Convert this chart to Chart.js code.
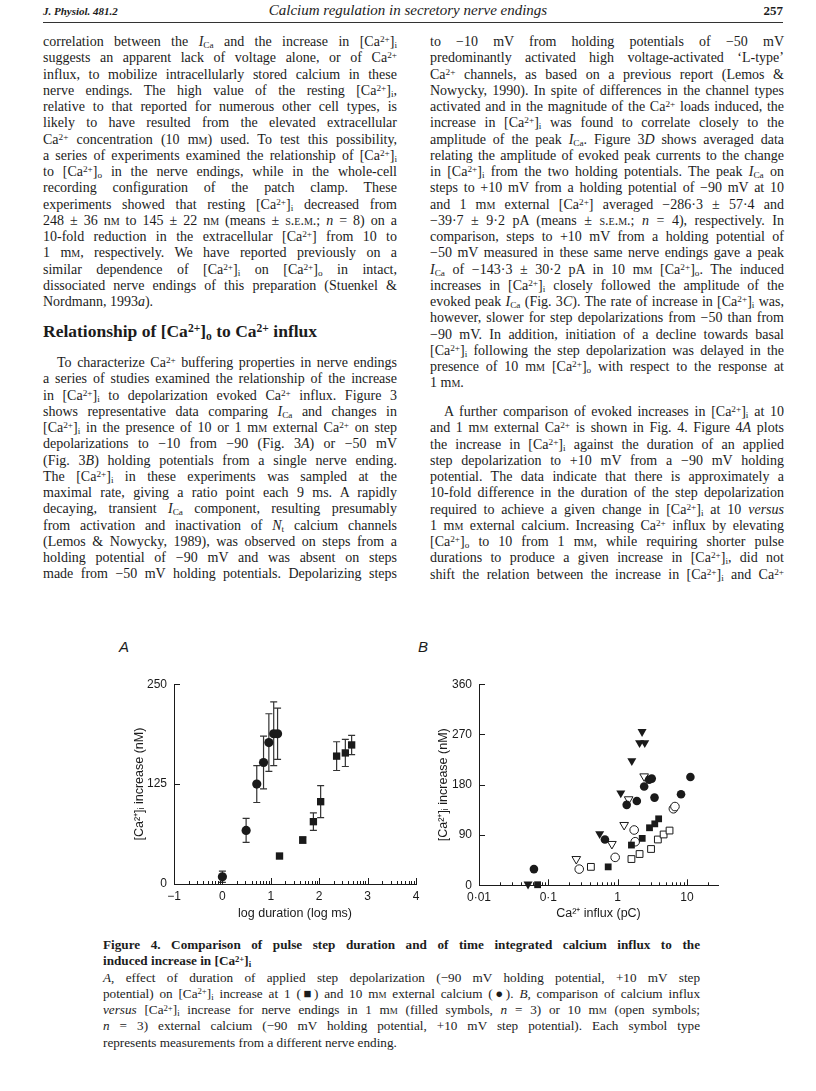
<!DOCTYPE html>
<html>
<head>
<meta charset="utf-8">
<script src="https://cdn.jsdelivr.net/npm/chart.js@4.4.1/dist/chart.umd.min.js"></script>
<style>
  body { margin:0; background:#fff; }
  #page { position:relative; width:816px; height:1091px; background:#fff; color:#1c1c1c; font-family:"Liberation Serif", serif; overflow:hidden; }
  .hdr { position:absolute; top:3px; font-size:12px; }
  .rule { position:absolute; left:43px; top:22px; width:740px; border-top:1px solid #333; }
  .col { position:absolute; width:354px; font-size:14px; line-height:16.25px; }
  .col div, .cap div { text-align:justify; text-align-last:justify; white-space:nowrap; }
  .col div.e, .cap div.e { text-align-last:left; }
  .ind { text-indent:14px; }
  sup, sub { font-size:66%; line-height:0; position:relative; vertical-align:baseline; }
  sup { top:-0.42em; } sub { top:0.22em; }
  .sc { font-variant:small-caps; }
  h3 { position:absolute; left:43px; top:321px; margin:0; font-size:17.5px; font-weight:bold; }
  .cap { position:absolute; left:103px; top:937px; width:597px; font-size:13.2px; line-height:16.3px; }
  .cap b { font-weight:bold; }
  .plab { position:absolute; font-family:"Liberation Sans", Arial, sans-serif; font-style:italic; font-size:15px; }
  canvas { position:absolute; }
</style>
</head>
<body>
<div id="page">
  <div class="hdr" style="left:43px;font-weight:bold;font-style:italic;font-size:11px;top:5px">J. Physiol. 481.2</div>
  <div class="hdr" style="left:0;width:816px;text-align:center;font-style:italic;font-size:15px;top:2px">Calcium regulation in secretory nerve endings</div>
  <div class="hdr" style="left:740px;width:43px;text-align:right;font-weight:bold;font-size:13px;top:3px">257</div>
  <div class="rule"></div>

  <div class="col" style="left:43px;top:34px">
    <div>correlation between the <i>I</i><sub>Ca</sub> and the increase in [Ca<sup>2+</sup>]<sub>i</sub></div>
    <div>suggests an apparent lack of voltage alone, or of Ca<sup>2+</sup></div>
    <div>influx, to mobilize intracellularly stored calcium in these</div>
    <div>nerve endings. The high value of the resting [Ca<sup>2+</sup>]<sub>i</sub>,</div>
    <div>relative to that reported for numerous other cell types, is</div>
    <div>likely to have resulted from the elevated extracellular</div>
    <div>Ca<sup>2+</sup> concentration (10 m<span class="sc">m</span>) used. To test this possibility,</div>
    <div>a series of experiments examined the relationship of [Ca<sup>2+</sup>]<sub>i</sub></div>
    <div>to [Ca<sup>2+</sup>]<sub>o</sub> in the nerve endings, while in the whole-cell</div>
    <div>recording configuration of the patch clamp. These</div>
    <div>experiments showed that resting [Ca<sup>2+</sup>]<sub>i</sub> decreased from</div>
    <div>248 ± 36 n<span class="sc">m</span> to 145 ± 22 n<span class="sc">m</span> (means ± <span class="sc">s.e.m.</span>; <i>n</i> = 8) on a</div>
    <div>10-fold reduction in the extracellular [Ca<sup>2+</sup>] from 10 to</div>
    <div>1 m<span class="sc">m</span>, respectively. We have reported previously on a</div>
    <div>similar dependence of [Ca<sup>2+</sup>]<sub>i</sub> on [Ca<sup>2+</sup>]<sub>o</sub> in intact,</div>
    <div>dissociated nerve endings of this preparation (Stuenkel &amp;</div>
    <div class="e">Nordmann, 1993<i>a</i>).</div>
  </div>

  <h3>Relationship of [Ca<sup>2+</sup>]<sub>o</sub> to Ca<sup>2+</sup> influx</h3>

  <div class="col" style="left:43px;top:355px">
    <div class="ind">To characterize Ca<sup>2+</sup> buffering properties in nerve endings</div>
    <div>a series of studies examined the relationship of the increase</div>
    <div>in [Ca<sup>2+</sup>]<sub>i</sub> to depolarization evoked Ca<sup>2+</sup> influx. Figure 3</div>
    <div>shows representative data comparing <i>I</i><sub>Ca</sub> and changes in</div>
    <div>[Ca<sup>2+</sup>]<sub>i</sub> in the presence of 10 or 1 m<span class="sc">m</span> external Ca<sup>2+</sup> on step</div>
    <div>depolarizations to −10 from −90 (Fig. 3<i>A</i>) or −50 mV</div>
    <div>(Fig. 3<i>B</i>) holding potentials from a single nerve ending.</div>
    <div>The [Ca<sup>2+</sup>]<sub>i</sub> in these experiments was sampled at the</div>
    <div>maximal rate, giving a ratio point each 9 ms. A rapidly</div>
    <div>decaying, transient <i>I</i><sub>Ca</sub> component, resulting presumably</div>
    <div>from activation and inactivation of <i>N</i><sub>t</sub> calcium channels</div>
    <div>(Lemos &amp; Nowycky, 1989), was observed on steps from a</div>
    <div>holding potential of −90 mV and was absent on steps</div>
    <div>made from −50 mV holding potentials. Depolarizing steps</div>
  </div>

  <div class="col" style="left:430px;top:34px">
    <div>to −10 mV from holding potentials of −50 mV</div>
    <div>predominantly activated high voltage-activated ‘L-type’</div>
    <div>Ca<sup>2+</sup> channels, as based on a previous report (Lemos &amp;</div>
    <div>Nowycky, 1990). In spite of differences in the channel types</div>
    <div>activated and in the magnitude of the Ca<sup>2+</sup> loads induced, the</div>
    <div>increase in [Ca<sup>2+</sup>]<sub>i</sub> was found to correlate closely to the</div>
    <div>amplitude of the peak <i>I</i><sub>Ca</sub>. Figure 3<i>D</i> shows averaged data</div>
    <div>relating the amplitude of evoked peak currents to the change</div>
    <div>in [Ca<sup>2+</sup>]<sub>i</sub> from the two holding potentials. The peak <i>I</i><sub>Ca</sub> on</div>
    <div>steps to +10 mV from a holding potential of −90 mV at 10</div>
    <div>and 1 m<span class="sc">m</span> external [Ca<sup>2+</sup>] averaged −286·3 ± 57·4 and</div>
    <div>−39·7 ± 9·2 pA (means ± <span class="sc">s.e.m.</span>; <i>n</i> = 4), respectively. In</div>
    <div>comparison, steps to +10 mV from a holding potential of</div>
    <div>−50 mV measured in these same nerve endings gave a peak</div>
    <div><i>I</i><sub>Ca</sub> of −143·3 ± 30·2 pA in 10 m<span class="sc">m</span> [Ca<sup>2+</sup>]<sub>o</sub>. The induced</div>
    <div>increases in [Ca<sup>2+</sup>]<sub>i</sub> closely followed the amplitude of the</div>
    <div>evoked peak <i>I</i><sub>Ca</sub> (Fig. 3<i>C</i>). The rate of increase in [Ca<sup>2+</sup>]<sub>i</sub> was,</div>
    <div>however, slower for step depolarizations from −50 than from</div>
    <div>−90 mV. In addition, initiation of a decline towards basal</div>
    <div>[Ca<sup>2+</sup>]<sub>i</sub> following the step depolarization was delayed in the</div>
    <div>presence of 10 m<span class="sc">m</span> [Ca<sup>2+</sup>]<sub>o</sub> with respect to the response at</div>
    <div class="e">1 m<span class="sc">m</span>.</div>
  </div>

  <div class="col" style="left:430px;top:404px">
    <div class="ind">A further comparison of evoked increases in [Ca<sup>2+</sup>]<sub>i</sub> at 10</div>
    <div>and 1 m<span class="sc">m</span> external Ca<sup>2+</sup> is shown in Fig. 4. Figure 4<i>A</i> plots</div>
    <div>the increase in [Ca<sup>2+</sup>]<sub>i</sub> against the duration of an applied</div>
    <div>step depolarization to +10 mV from a −90 mV holding</div>
    <div>potential. The data indicate that there is approximately a</div>
    <div>10-fold difference in the duration of the step depolarization</div>
    <div>required to achieve a given change in [Ca<sup>2+</sup>]<sub>i</sub> at 10 <i>versus</i></div>
    <div>1 m<span class="sc">m</span> external calcium. Increasing Ca<sup>2+</sup> influx by elevating</div>
    <div>[Ca<sup>2+</sup>]<sub>o</sub> to 10 from 1 m<span class="sc">m</span>, while requiring shorter pulse</div>
    <div>durations to produce a given increase in [Ca<sup>2+</sup>]<sub>i</sub>, did not</div>
    <div>shift the relation between the increase in [Ca<sup>2+</sup>]<sub>i</sub> and Ca<sup>2+</sup></div>
  </div>

  <div class="plab" style="left:119px;top:638px">A</div>
  <div class="plab" style="left:418px;top:638px">B</div>
  <canvas id="chartA" width="320" height="255" style="left:110px;top:670px"></canvas>
  <canvas id="chartB" width="310" height="255" style="left:420px;top:670px"></canvas>

  <div class="cap">
    <div><b>Figure 4. Comparison of pulse step duration and of time integrated calcium influx to the</b></div>
    <div class="e"><b>induced increase in [Ca<sup>2+</sup>]<sub>i</sub></b></div>
    <div><i>A</i>, effect of duration of applied step depolarization (−90 mV holding potential, +10 mV step</div>
    <div>potential) on [Ca<sup>2+</sup>]<sub>i</sub> increase at 1 (■) and 10 m<span class="sc">m</span> external calcium (●). <i>B</i>, comparison of calcium influx</div>
    <div><i>versus</i> [Ca<sup>2+</sup>]<sub>i</sub> increase for nerve endings in 1 m<span class="sc">m</span> (filled symbols, <i>n</i> = 3) or 10 m<span class="sc">m</span> (open symbols;</div>
    <div><i>n</i> = 3) external calcium (−90 mV holding potential, +10 mV step potential). Each symbol type</div>
    <div class="e">represents measurements from a different nerve ending.</div>
  </div>
</div>

<script>
// panel A: log duration vs increase
const durOne = [1.18, 1.66, 1.88, 2.03, 2.36, 2.54, 2.67];
const incOne = [35, 55, 78, 103, 160, 164, 174];
const errOne = [0, 4, 11, 20, 18, 17, 12];
const durTen = [0, 0.49, 0.71, 0.85, 0.96, 1.06, 1.14];
const incTen = [9, 67, 125, 152, 177, 188, 188];
const errTen = [7, 15, 23, 33, 36, 40, 32];
const aTicksX = [-1, 0, 1, 2, 3, 4];
const aTicksY = [0, 125, 250];

// panel B: Ca influx (pC) vs increase, one array pair per nerve ending
const fCircX = [0.062, 0.655, 1.35, 1.89, 2.41, 2.84, 3.1, 3.4, 8.2, 11.2];
const fCircY = [29, 82, 144, 151, 177, 189, 191, 157, 163, 194];
const fTriX = [0.051, 0.55, 1.11, 1.6, 2.07, 2.46, 2.25];
const fTriY = [2, 92, 165, 223, 255, 255, 275];
const fSqX = [0.070, 0.73, 1.58, 2.26, 2.88, 3.43, 3.9];
const fSqY = [1, 33, 72, 84, 103, 110, 119];
const oTriX = [0.253, 0.826, 1.24, 1.44, 2.41];
const oTriY = [47, 74, 108, 154, 195];
const oCircX = [0.279, 0.92, 1.79, 1.73, 6.36, 6.7];
const oCircY = [29, 50, 78, 99, 137, 141];
const oSqX = [0.411, 1.58, 2.07, 3.03, 3.8, 4.6, 5.6];
const oSqY = [33, 47, 56, 65, 82, 91, 98];
const bTicksX = [0.01, 0.1, 1, 10];
const bTickLabels = ['0·01', '0·1', '1', '10'];
const bTicksY = [0, 90, 180, 270, 360];

const ink = '#1a1a1a';
const sans = '"Liberation Sans", Arial, sans-serif';

function pts(xs, ys) { return xs.map((x, i) => ({ x: x, y: ys[i] })); }

// minor tick positions inside each decade
function logMinor(lo, hi, isLog) {
  const out = [];
  if (isLog) {
    for (let d = lo; d < hi; d *= 10)
      for (let k = 2; k <= 9; k++) if (k * d <= hi) out.push(k * d);
  } else {
    for (let d = lo; d < hi; d++)
      for (let k = 2; k <= 9; k++) out.push(d + Math.log10(k));
  }
  return out;
}

const tickMarks = {
  id: 'tickMarks',
  afterDatasetsDraw(chart, args, o) {
    const ctx = chart.ctx, xs = chart.scales.x, ys = chart.scales.y;
    ctx.save();
    ctx.strokeStyle = ink;
    ctx.lineWidth = 1;
    ctx.beginPath();
    o.xMajor.forEach(v => {
      const px = Math.round(xs.getPixelForValue(v)) + 0.5;
      ctx.moveTo(px, ys.bottom); ctx.lineTo(px, ys.bottom - 6);
    });
    o.xMinor.forEach(v => {
      const px = Math.round(xs.getPixelForValue(v)) + 0.5;
      ctx.moveTo(px, ys.bottom); ctx.lineTo(px, ys.bottom - 3);
    });
    o.yMajor.forEach(v => {
      const py = Math.round(ys.getPixelForValue(v)) + 0.5;
      ctx.moveTo(xs.left, py); ctx.lineTo(xs.left + 6, py);
    });
    ctx.stroke();
    ctx.restore();
  }
};

const errorBars = {
  id: 'errorBars',
  beforeDatasetsDraw(chart) {
    const ctx = chart.ctx, xs = chart.scales.x, ys = chart.scales.y;
    ctx.save();
    ctx.strokeStyle = '#333';
    ctx.lineWidth = 1.2;
    chart.data.datasets.forEach(ds => {
      if (!ds.errors) return;
      ds.data.forEach((p, i) => {
        const e = ds.errors[i];
        if (!e) return;
        const px = xs.getPixelForValue(p.x);
        const top = ys.getPixelForValue(p.y + e), bot = ys.getPixelForValue(p.y - e);
        ctx.beginPath();
        ctx.moveTo(px, top); ctx.lineTo(px, bot);
        ctx.moveTo(px - 3.5, top); ctx.lineTo(px + 3.5, top);
        ctx.moveTo(px - 3.5, bot); ctx.lineTo(px + 3.5, bot);
        ctx.stroke();
      });
    });
    ctx.restore();
  }
};

function axisFont(size) { return { family: sans, size: size }; }

function baseScales(xCfg, yCfg, yTitle, xTitle, yWidth, xHeight, yTitlePad) {
  return {
    x: Object.assign({
      grid: { display: false, drawTicks: false },
      border: { display: true, color: ink, width: 1 },
      title: { display: true, text: xTitle, color: ink, font: axisFont(12.5), padding: { top: 0, bottom: 4 } },
      afterFit(s) { s.height = xHeight; }
    }, xCfg),
    y: Object.assign({
      grid: { display: false, drawTicks: false },
      border: { display: true, color: ink, width: 1 },
      title: { display: true, text: yTitle, color: ink, font: axisFont(12.5), padding: { top: yTitlePad, bottom: 0 } },
      afterFit(s) { s.width = yWidth; }
    }, yCfg)
  };
}

Chart.defaults.animation = false;
Chart.defaults.color = ink;

new Chart(document.getElementById('chartA'), {
  type: 'scatter',
  data: {
    datasets: [
      { label: '1 mM', data: pts(durOne, incOne), errors: errOne, pointStyle: 'rect', pointRadius: 5.2,
        backgroundColor: ink, borderColor: ink, borderWidth: 0, clip: false },
      { label: '10 mM', data: pts(durTen, incTen), errors: errTen, pointStyle: 'circle', pointRadius: 4.6,
        backgroundColor: ink, borderColor: ink, borderWidth: 0, clip: false }
    ]
  },
  options: {
    responsive: false,
    layout: { padding: { top: 12.7, right: 14, left: 0, bottom: 0 } },
    plugins: {
      legend: { display: false }, tooltip: { enabled: false },
      tickMarks: { xMajor: aTicksX, xMinor: logMinor(-1, 4, false), yMajor: aTicksY }
    },
    scales: baseScales(
      { type: 'linear', min: -1, max: 4,
        afterBuildTicks(s) { s.ticks = aTicksX.map(v => ({ value: v })); },
        ticks: { padding: 5, font: axisFont(12), callback: v => String(v).replace('-', '−') } },
      { type: 'linear', min: 0, max: 250,
        afterBuildTicks(s) { s.ticks = aTicksY.map(v => ({ value: v })); },
        ticks: { padding: 7, font: axisFont(12) } },
      '[Ca²⁺]ᵢ increase (nM)', 'log duration (log ms)', 64, 41, 22)
  },
  plugins: [errorBars, tickMarks]
});

new Chart(document.getElementById('chartB'), {
  type: 'scatter',
  data: {
    datasets: [
      { data: pts(fCircX, fCircY), pointStyle: 'circle', pointRadius: 4.3, backgroundColor: ink, borderColor: ink, borderWidth: 0, clip: false },
      { data: pts(fTriX, fTriY), pointStyle: 'triangle', rotation: 180, pointRadius: 5.2, backgroundColor: ink, borderColor: ink, borderWidth: 0, clip: false },
      { data: pts(fSqX, fSqY), pointStyle: 'rect', pointRadius: 4.8, backgroundColor: ink, borderColor: ink, borderWidth: 0, clip: false },
      { data: pts(oTriX, oTriY), pointStyle: 'triangle', rotation: 180, pointRadius: 5, backgroundColor: '#fff', borderColor: ink, borderWidth: 1, clip: false },
      { data: pts(oCircX, oCircY), pointStyle: 'circle', pointRadius: 4.3, backgroundColor: '#fff', borderColor: ink, borderWidth: 1, clip: false },
      { data: pts(oSqX, oSqY), pointStyle: 'rect', pointRadius: 4.8, backgroundColor: '#fff', borderColor: ink, borderWidth: 1, clip: false }
    ]
  },
  options: {
    responsive: false,
    layout: { padding: { top: 10, right: 12, left: 0, bottom: 0 } },
    plugins: {
      legend: { display: false }, tooltip: { enabled: false },
      tickMarks: { xMajor: bTicksX, xMinor: logMinor(0.01, 28, true), yMajor: bTicksY }
    },
    scales: baseScales(
      { type: 'logarithmic', min: 0.01, max: 28,
        afterBuildTicks(s) { s.ticks = bTicksX.map(v => ({ value: v })); },
        ticks: { padding: 5, font: axisFont(12), autoSkip: false,
          callback: v => { const i = bTicksX.findIndex(t => Math.abs(t - v) < t * 1e-6); return i < 0 ? '' : bTickLabels[i]; } } },
      { type: 'linear', min: 0, max: 360,
        afterBuildTicks(s) { s.ticks = bTicksY.map(v => ({ value: v })); },
        ticks: { padding: 7, font: axisFont(12) } },
      '[Ca²⁺]ᵢ increase (nM)', 'Ca²⁺ influx (pC)', 59, 39.7, 16)
  },
  plugins: [errorBars, tickMarks]
});
</script>
</body>
</html>
